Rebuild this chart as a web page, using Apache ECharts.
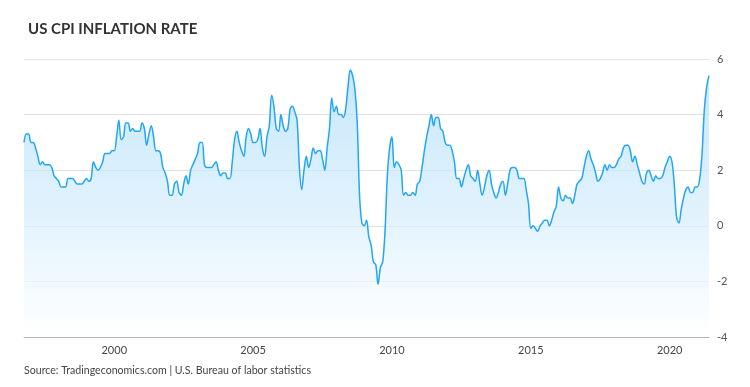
<!DOCTYPE html>
<html>
<head>
<meta charset="utf-8">
<script src="https://cdn.jsdelivr.net/npm/echarts@6/dist/echarts.min.js"></script>
<style>
html,body{margin:0;padding:0;background:#fff;}
#chart{width:750px;height:387px;}
</style>
</head>
<body>
<div id="chart"></div>
<script>
// Monthly US CPI YoY inflation (%), Oct 1996 .. Jun 2021
const startYear = 1996, startMonth = 10;
const cpi1996 = [3.0, 3.3, 3.3];
const cpi1997 = [3.0, 3.0, 2.8, 2.5, 2.2, 2.3, 2.2, 2.2, 2.2, 2.1, 1.8, 1.7];
const cpi1998 = [1.6, 1.4, 1.4, 1.4, 1.7, 1.7, 1.7, 1.6, 1.5, 1.5, 1.5, 1.6];
const cpi1999 = [1.7, 1.6, 1.7, 2.3, 2.1, 2.0, 2.1, 2.3, 2.6, 2.6, 2.6, 2.7];
const cpi2000 = [2.7, 3.2, 3.8, 3.1, 3.2, 3.7, 3.7, 3.4, 3.5, 3.4, 3.4, 3.4];
const cpi2001 = [3.7, 3.5, 2.9, 3.3, 3.6, 3.2, 2.7, 2.7, 2.6, 2.1, 1.9, 1.6];
const cpi2002 = [1.1, 1.1, 1.5, 1.6, 1.2, 1.1, 1.5, 1.8, 1.5, 2.0, 2.2, 2.4];
const cpi2003 = [2.6, 3.0, 3.0, 2.2, 2.1, 2.1, 2.1, 2.2, 2.3, 2.0, 1.8, 1.9];
const cpi2004 = [1.9, 1.7, 1.7, 2.3, 3.1, 3.4, 3.0, 2.7, 2.5, 3.2, 3.5, 3.3];
const cpi2005 = [3.0, 3.0, 3.1, 3.5, 2.8, 2.5, 3.2, 3.6, 4.7, 4.3, 3.5, 3.4];
const cpi2006 = [4.0, 3.6, 3.4, 3.5, 4.2, 4.3, 4.1, 3.8, 2.1, 1.3, 2.0, 2.5];
const cpi2007 = [2.1, 2.4, 2.8, 2.6, 2.7, 2.7, 2.4, 2.0, 2.8, 3.5, 4.6, 4.1];
const cpi2008 = [4.3, 4.0, 4.0, 3.9, 4.2, 5.0, 5.6, 5.4, 4.9, 3.7, 1.1, 0.1];
const cpi2009 = [0.0, 0.2, -0.4, -0.7, -1.3, -1.4, -2.1, -1.5, -1.3, -0.2, 1.8, 2.8];
const cpi2010 = [3.2, 2.1, 2.3, 2.2, 2.0, 1.1, 1.2, 1.1, 1.1, 1.2, 1.1, 1.5];
const cpi2011 = [1.6, 2.1, 2.7, 3.2, 3.6, 4.0, 3.6, 3.9, 3.9, 3.5, 3.4, 3.0];
const cpi2012 = [2.9, 2.9, 2.7, 2.3, 1.7, 1.7, 1.4, 1.7, 2.0, 2.2, 1.8, 1.7];
const cpi2013 = [1.6, 2.0, 1.5, 1.1, 1.4, 1.8, 2.0, 1.5, 1.2, 1.0, 1.2, 1.5];
const cpi2014 = [1.6, 1.1, 1.5, 2.0, 2.1, 2.1, 2.0, 1.7, 1.7, 1.7, 1.3, 0.8];
const cpi2015 = [-0.1, 0.0, -0.1, -0.2, 0.0, 0.1, 0.2, 0.2, 0.0, 0.2, 0.5, 0.7];
const cpi2016 = [1.4, 1.0, 0.9, 1.1, 1.0, 1.0, 0.8, 1.1, 1.5, 1.6, 1.7, 2.1];
const cpi2017 = [2.5, 2.7, 2.4, 2.2, 1.9, 1.6, 1.7, 1.9, 2.2, 2.0, 2.2, 2.1];
const cpi2018 = [2.1, 2.2, 2.4, 2.5, 2.8, 2.9, 2.9, 2.7, 2.3, 2.5, 2.2, 1.9];
const cpi2019 = [1.6, 1.5, 1.9, 2.0, 1.8, 1.6, 1.8, 1.7, 1.7, 1.8, 2.1, 2.3];
const cpi2020 = [2.5, 2.3, 1.5, 0.3, 0.1, 0.6, 1.0, 1.3, 1.4, 1.2, 1.2, 1.4];
const cpi2021 = [1.4, 1.7, 2.6, 4.2, 5.0, 5.4];

const yearLabels = ['2000', '2005', '2010', '2015', '2020'];
const yTicks = [-4, -2, 0, 2, 4, 6];

const values = [].concat(cpi1996, cpi1997, cpi1998, cpi1999, cpi2000, cpi2001,
  cpi2002, cpi2003, cpi2004, cpi2005, cpi2006, cpi2007, cpi2008, cpi2009,
  cpi2010, cpi2011, cpi2012, cpi2013, cpi2014, cpi2015, cpi2016, cpi2017,
  cpi2018, cpi2019, cpi2020, cpi2021);
const categories = values.map((v, i) => {
  const m0 = startMonth - 1 + i;
  const y = startYear + Math.floor(m0 / 12);
  const m = (m0 % 12) + 1;
  return y + '-' + (m < 10 ? '0' + m : m);
});

const chart = echarts.init(document.getElementById('chart'), null, {renderer: 'canvas'});
const font = 'Lato, "Open Sans", sans-serif';
chart.setOption({
  animation: false,
  backgroundColor: '#fff',
  title: [{
    text: 'US CPI INFLATION RATE',
    left: 23, top: 17,
    textStyle: {fontFamily: font, fontWeight: 'bold', fontSize: 15, color: '#333'}
  }, {
    text: 'Source: Tradingeconomics.com | U.S. Bureau of labor statistics',
    left: 19, top: 360,
    textStyle: {fontFamily: font, fontWeight: 'normal', fontSize: 10.6, color: '#444'}
  }],
  grid: {left: 24, right: 41, top: 59, bottom: 50},
  xAxis: {
    type: 'category',
    data: categories,
    boundaryGap: false,
    axisLine: {show: true, onZero: false, lineStyle: {color: '#b5b5b5', width: 1}},
    axisTick: {show: false},
    axisLabel: {
      interval: (idx, val) => val.endsWith('-01') && yearLabels.includes(val.slice(0, 4)),
      formatter: (val) => val.slice(0, 4),
      color: '#444', fontFamily: font, fontSize: 11, margin: 8
    },
    splitLine: {show: false}
  },
  yAxis: {
    type: 'value',
    position: 'right',
    min: yTicks[0], max: yTicks[yTicks.length - 1], interval: 2,
    axisLine: {show: false},
    axisTick: {show: false},
    axisLabel: {color: '#555', fontFamily: font, fontSize: 11, margin: 8},
    splitLine: {lineStyle: {color: '#e2e2e2', width: 1}}
  },
  series: [{
    type: 'line',
    data: values,
    smooth: 0.35,
    showSymbol: false,
    lineStyle: {color: '#22a6f5', width: 1.5},
    areaStyle: {
      origin: 'start',
      color: new echarts.graphic.LinearGradient(0, 0, 0, 1, [
        {offset: 0, color: '#b0defb'},
        {offset: 0.5, color: '#d2ecfd'},
        {offset: 1, color: '#ffffff'}
      ])
    }
  }]
});
</script>
</body>
</html>
